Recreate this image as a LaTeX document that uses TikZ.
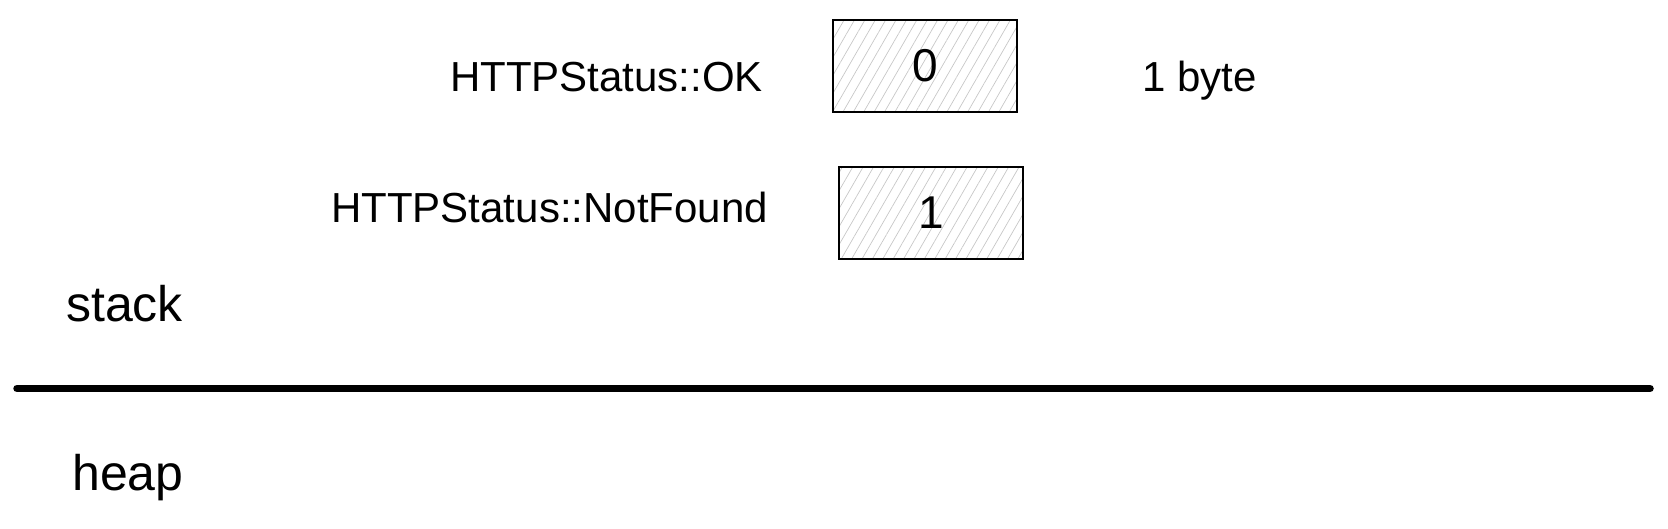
\documentclass[tikz,border=0pt]{standalone}
\usepackage{fontspec}
\setmainfont{Liberation Sans}
\usetikzlibrary{positioning, patterns.meta}

\tikzset{
  cell/.style={draw, line width=2pt, minimum width=184pt, minimum height=92pt,
    pattern={Lines[angle=60, distance=9pt, line width=0.7pt]}, pattern color=black!22,
    font=\fontsize{46}{50}\selectfont},
  cellname/.style={inner sep=0pt, font=\fontsize{42}{46}\selectfont},
  region/.style={inner sep=0pt, font=\fontsize{50}{56}\selectfont},
  divider/.style={line width=7.5pt, line cap=round}
}

\begin{document}
\begin{tikzpicture}[x=1pt, y=-1pt]
  \useasboundingbox (0,0) rectangle (1668,528);

  % Enum values on the stack
  \node[cell] (ok) at (925,66) {0};
  \node[cell] (notfound) at (931,213) {1};

  % Their names and size
  \node[cellname, anchor=base east] (okname) at (763,91) {HTTPStatus::OK};
  \node[cellname, anchor=base east] (notfoundname) at (768,222) {HTTPStatus::NotFound};
  \node[cellname, anchor=base west] (size) at (1142,91) {1 byte};

  % Stack / heap split
  \node[region, anchor=base west] (stack) at (66,321) {stack};
  \coordinate (splitl) at (17,388.5);
  \coordinate (splitr) at (1650,388.5);
  \draw[divider] (splitl) -- (splitr);
  \node[region, anchor=base west] (heap) at (72,490) {heap};

\end{tikzpicture}
\end{document}
